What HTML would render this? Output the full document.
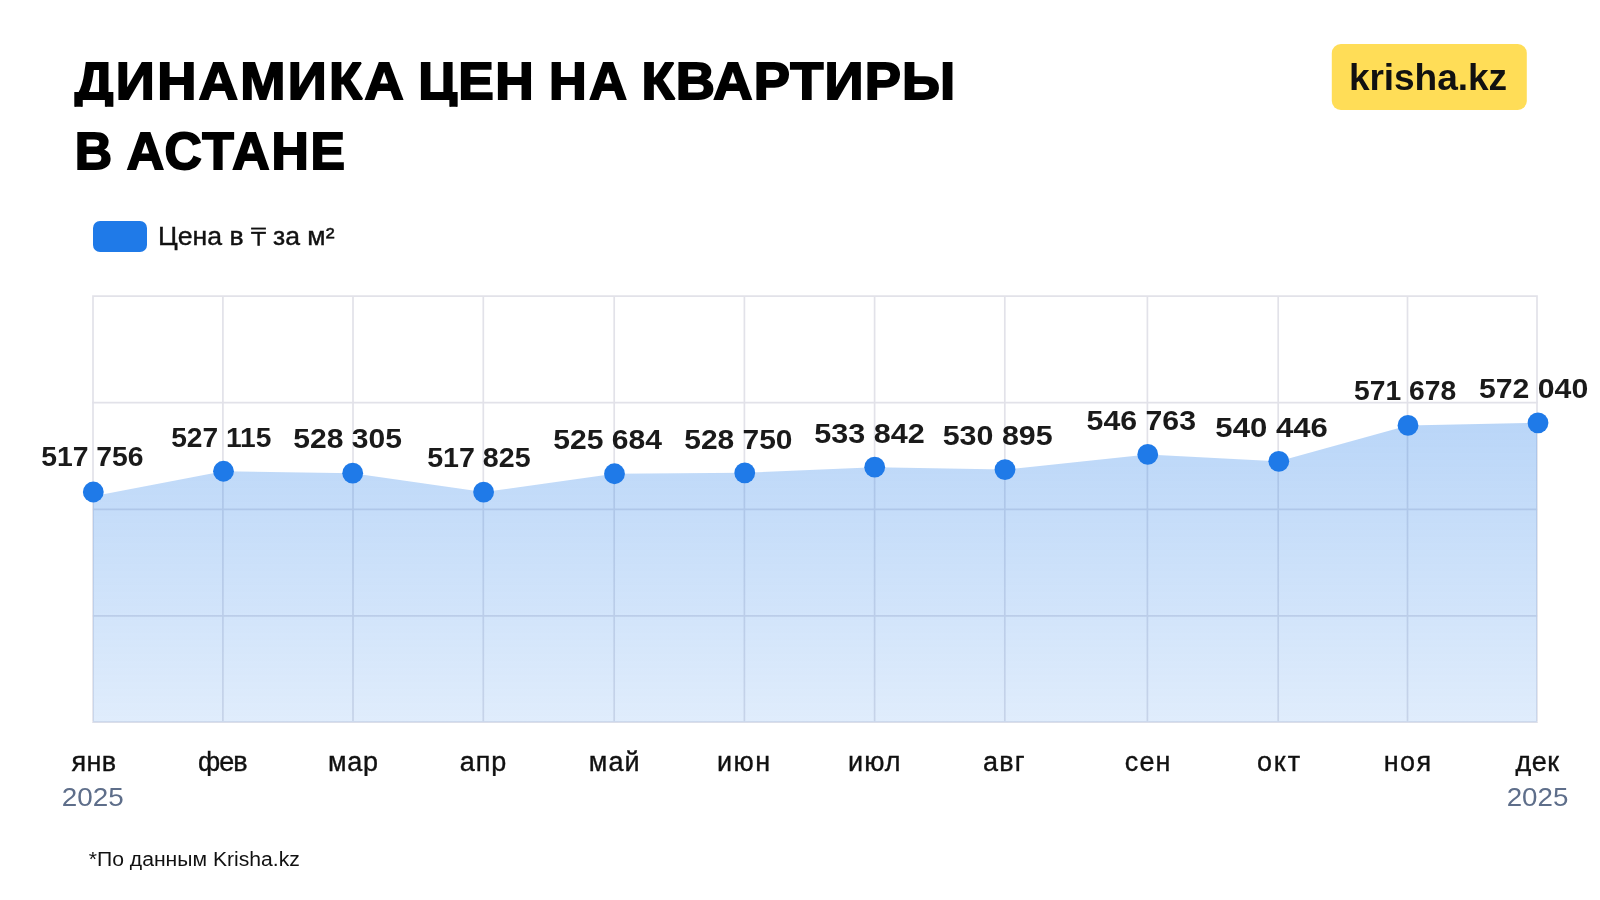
<!DOCTYPE html><html><head><meta charset="utf-8"><style>
html,body{margin:0;padding:0;background:#fff;width:1600px;height:900px;overflow:hidden}
svg{display:block;will-change:transform}
text{font-family:"Liberation Sans",sans-serif;white-space:pre}
</style></head><body>
<svg width="1600" height="900" viewBox="0 0 1600 900">
<defs><linearGradient id="ag" x1="0" y1="422" x2="0" y2="722" gradientUnits="userSpaceOnUse">
<stop offset="0" stop-color="#1F7AE8" stop-opacity="0.31"/><stop offset="1" stop-color="#1F7AE8" stop-opacity="0.14"/></linearGradient></defs>

<clipPath id="c1"><rect x="0" y="0" width="1000" height="106.8"/></clipPath><g clip-path="url(#c1)">
<text transform="translate(74.80,99.10) scale(1.04,1)" font-size="52.2" font-weight="bold" fill="#000" stroke="#000" stroke-width="1.8" stroke-linejoin="miter" stroke-miterlimit="2" letter-spacing="2.239">ДИНАМИКА</text>
<text transform="translate(418.14,99.10) scale(1.02,1)" font-size="52.2" font-weight="bold" fill="#000" stroke="#000" stroke-width="1.8" stroke-linejoin="miter" stroke-miterlimit="2" letter-spacing="1.275">ЦЕН</text>
<text transform="translate(548.90,99.10) scale(1.0,1)" font-size="52.2" font-weight="bold" fill="#000" stroke="#000" stroke-width="1.8" stroke-linejoin="miter" stroke-miterlimit="2" letter-spacing="2.700">НА</text>
<text transform="translate(641.48,99.10) scale(1.04,1)" font-size="52.2" font-weight="bold" fill="#000" stroke="#000" stroke-width="1.8" stroke-linejoin="miter" stroke-miterlimit="2" letter-spacing="1.082">КВАРТИРЫ</text>
</g>
<text x="74.83" y="169.10" font-size="52.2" font-weight="bold" fill="#000" stroke="#000" stroke-width="1.8" stroke-linejoin="miter" stroke-miterlimit="2" textLength="37.36" lengthAdjust="spacingAndGlyphs">В</text>
<text transform="translate(126.80,169.10) scale(0.99,1)" font-size="52.2" font-weight="bold" fill="#000" stroke="#000" stroke-width="1.8" stroke-linejoin="miter" stroke-miterlimit="2" letter-spacing="1.758">АСТАНЕ</text>
<rect x="1331.8" y="44" width="195" height="66" rx="9" fill="#FFDD57"/>
<text transform="translate(1348.91,89.80) scale(1.03,1)" font-size="36" font-weight="bold" fill="#111" letter-spacing="-0.061">krisha.kz</text>
<rect x="93" y="221" width="54" height="31" rx="7" fill="#1F7AE8"/>
<text x="157.95" y="245.30" font-size="26" font-weight="normal" fill="#111" stroke="#111" stroke-width="0.4" stroke-linejoin="miter" stroke-miterlimit="2" textLength="85.63" lengthAdjust="spacingAndGlyphs">Цена в</text>
<text x="272.98" y="245.30" font-size="26" font-weight="normal" fill="#111" stroke="#111" stroke-width="0.4" stroke-linejoin="miter" stroke-miterlimit="2" textLength="61.57" lengthAdjust="spacingAndGlyphs">за м²</text>
<g fill="#111"><rect x="251.1" y="227.6" width="14.8" height="1.9"/><rect x="251.1" y="231.8" width="14.8" height="2.1"/><rect x="257.4" y="233" width="2.4" height="12.8"/></g>
<g stroke="#E2E2E9" stroke-width="1.7">
<line x1="92.15" y1="296.1" x2="1537.85" y2="296.1"/>
<line x1="92.15" y1="402.6" x2="1537.85" y2="402.6"/>
<line x1="92.15" y1="509.3" x2="1537.85" y2="509.3"/>
<line x1="92.15" y1="615.9" x2="1537.85" y2="615.9"/>
<line x1="92.15" y1="722.2" x2="1537.85" y2="722.2"/>
<line x1="93" y1="296.95" x2="93" y2="721.35"/>
<line x1="222.9" y1="296.95" x2="222.9" y2="721.35"/>
<line x1="353" y1="296.95" x2="353" y2="721.35"/>
<line x1="483.3" y1="296.95" x2="483.3" y2="721.35"/>
<line x1="614.2" y1="296.95" x2="614.2" y2="721.35"/>
<line x1="744.4" y1="296.95" x2="744.4" y2="721.35"/>
<line x1="874.6" y1="296.95" x2="874.6" y2="721.35"/>
<line x1="1004.8" y1="296.95" x2="1004.8" y2="721.35"/>
<line x1="1147.4" y1="296.95" x2="1147.4" y2="721.35"/>
<line x1="1278.2" y1="296.95" x2="1278.2" y2="721.35"/>
<line x1="1407.5" y1="296.95" x2="1407.5" y2="721.35"/>
<line x1="1537" y1="296.95" x2="1537" y2="721.35"/>
</g>
<polygon points="93,722.2 93,496.3 223.5,471.25 352.7,473.2 483.6,492.1 614.5,473.75 744.75,472.8 874.7,467.2 1005,469.6 1147.75,454.4 1278.8,461.3 1408,425.4 1538,422.85 1537,422.85 1537,722.2" fill="url(#ag)"/>
<circle cx="93.3" cy="492" r="10.4" fill="#1F7AE8"/>
<circle cx="223.5" cy="471.25" r="10.4" fill="#1F7AE8"/>
<circle cx="352.7" cy="473.2" r="10.4" fill="#1F7AE8"/>
<circle cx="483.6" cy="492.1" r="10.4" fill="#1F7AE8"/>
<circle cx="614.5" cy="473.75" r="10.4" fill="#1F7AE8"/>
<circle cx="744.75" cy="472.8" r="10.4" fill="#1F7AE8"/>
<circle cx="874.7" cy="467.2" r="10.4" fill="#1F7AE8"/>
<circle cx="1005" cy="469.6" r="10.4" fill="#1F7AE8"/>
<circle cx="1147.75" cy="454.4" r="10.4" fill="#1F7AE8"/>
<circle cx="1278.8" cy="461.3" r="10.4" fill="#1F7AE8"/>
<circle cx="1408" cy="425.4" r="10.4" fill="#1F7AE8"/>
<circle cx="1538" cy="422.85" r="10.4" fill="#1F7AE8"/>
<clipPath id="c2"><rect x="0" y="700" width="1600" height="76"/></clipPath>
<text x="88.74" y="866.00" font-size="20" font-weight="normal" fill="#111" textLength="211.15" lengthAdjust="spacingAndGlyphs">*По данным Krisha.kz</text>
<text x="61.70" y="805.70" font-size="25.4" font-weight="normal" fill="#5E6E8A" textLength="61.92" lengthAdjust="spacingAndGlyphs">2025</text>
<text x="1506.71" y="805.70" font-size="25.4" font-weight="normal" fill="#5E6E8A" textLength="61.61" lengthAdjust="spacingAndGlyphs">2025</text>
<text x="41.17" y="465.70" font-size="27.5" font-weight="bold" fill="#1a1a1a" textLength="102.38" lengthAdjust="spacingAndGlyphs">517 756</text>
<text x="171.18" y="446.70" font-size="27.5" font-weight="bold" fill="#1a1a1a" textLength="100.24" lengthAdjust="spacingAndGlyphs">527 115</text>
<text x="293.21" y="448.30" font-size="27.5" font-weight="bold" fill="#1a1a1a" textLength="108.74" lengthAdjust="spacingAndGlyphs">528 305</text>
<text x="427.16" y="467.30" font-size="27.5" font-weight="bold" fill="#1a1a1a" textLength="103.46" lengthAdjust="spacingAndGlyphs">517 825</text>
<text x="553.21" y="449.00" font-size="27.5" font-weight="bold" fill="#1a1a1a" textLength="108.74" lengthAdjust="spacingAndGlyphs">525 684</text>
<text x="684.31" y="448.70" font-size="27.5" font-weight="bold" fill="#1a1a1a" textLength="108.22" lengthAdjust="spacingAndGlyphs">528 750</text>
<text x="814.29" y="442.70" font-size="27.5" font-weight="bold" fill="#1a1a1a" textLength="110.47" lengthAdjust="spacingAndGlyphs">533 842</text>
<text x="942.69" y="444.80" font-size="27.5" font-weight="bold" fill="#1a1a1a" textLength="109.96" lengthAdjust="spacingAndGlyphs">530 895</text>
<text x="1086.60" y="430.10" font-size="27.5" font-weight="bold" fill="#1a1a1a" textLength="109.45" lengthAdjust="spacingAndGlyphs">546 763</text>
<text x="1215.37" y="436.80" font-size="27.5" font-weight="bold" fill="#1a1a1a" textLength="112.42" lengthAdjust="spacingAndGlyphs">540 446</text>
<text x="1353.97" y="400.40" font-size="27.5" font-weight="bold" fill="#1a1a1a" textLength="102.14" lengthAdjust="spacingAndGlyphs">571 678</text>
<text x="1478.90" y="398.30" font-size="27.5" font-weight="bold" fill="#1a1a1a" textLength="109.35" lengthAdjust="spacingAndGlyphs">572 040</text>
<g clip-path="url(#c2)">
<text transform="translate(71.40,770.62) scale(1.0,1)" font-size="27" font-weight="normal" fill="#111" stroke="#111" stroke-width="0.35" stroke-linejoin="miter" stroke-miterlimit="2" letter-spacing="0.450">янв</text>
<text transform="translate(198.00,770.62) scale(1.0,1)" font-size="27" font-weight="normal" fill="#111" stroke="#111" stroke-width="0.35" stroke-linejoin="miter" stroke-miterlimit="2" letter-spacing="-1.050">фев</text>
<text transform="translate(328.00,770.62) scale(1.0,1)" font-size="27" font-weight="normal" fill="#111" stroke="#111" stroke-width="0.35" stroke-linejoin="miter" stroke-miterlimit="2" letter-spacing="0.700">мар</text>
<text transform="translate(459.70,770.62) scale(1.0,1)" font-size="27" font-weight="normal" fill="#111" stroke="#111" stroke-width="0.35" stroke-linejoin="miter" stroke-miterlimit="2" letter-spacing="1.000">апр</text>
<text transform="translate(588.80,770.62) scale(1.0,1)" font-size="27" font-weight="normal" fill="#111" stroke="#111" stroke-width="0.35" stroke-linejoin="miter" stroke-miterlimit="2" letter-spacing="1.100">май</text>
<text transform="translate(717.00,770.62) scale(1.0,1)" font-size="27" font-weight="normal" fill="#111" stroke="#111" stroke-width="0.35" stroke-linejoin="miter" stroke-miterlimit="2" letter-spacing="1.500">июн</text>
<text transform="translate(848.10,770.62) scale(1.0,1)" font-size="27" font-weight="normal" fill="#111" stroke="#111" stroke-width="0.35" stroke-linejoin="miter" stroke-miterlimit="2" letter-spacing="0.950">июл</text>
<text transform="translate(983.00,770.62) scale(1.0,1)" font-size="27" font-weight="normal" fill="#111" stroke="#111" stroke-width="0.35" stroke-linejoin="miter" stroke-miterlimit="2" letter-spacing="1.250">авг</text>
<text transform="translate(1124.80,770.62) scale(1.0,1)" font-size="27" font-weight="normal" fill="#111" stroke="#111" stroke-width="0.35" stroke-linejoin="miter" stroke-miterlimit="2" letter-spacing="1.100">сен</text>
<text transform="translate(1257.00,770.62) scale(1.0,1)" font-size="27" font-weight="normal" fill="#111" stroke="#111" stroke-width="0.35" stroke-linejoin="miter" stroke-miterlimit="2" letter-spacing="1.800">окт</text>
<text transform="translate(1383.80,770.62) scale(1.0,1)" font-size="27" font-weight="normal" fill="#111" stroke="#111" stroke-width="0.35" stroke-linejoin="miter" stroke-miterlimit="2" letter-spacing="1.350">ноя</text>
<text transform="translate(1515.60,770.62) scale(1.0,1)" font-size="27" font-weight="normal" fill="#111" stroke="#111" stroke-width="0.35" stroke-linejoin="miter" stroke-miterlimit="2" letter-spacing="0.450">дек</text>
</g>
</svg></body></html>
